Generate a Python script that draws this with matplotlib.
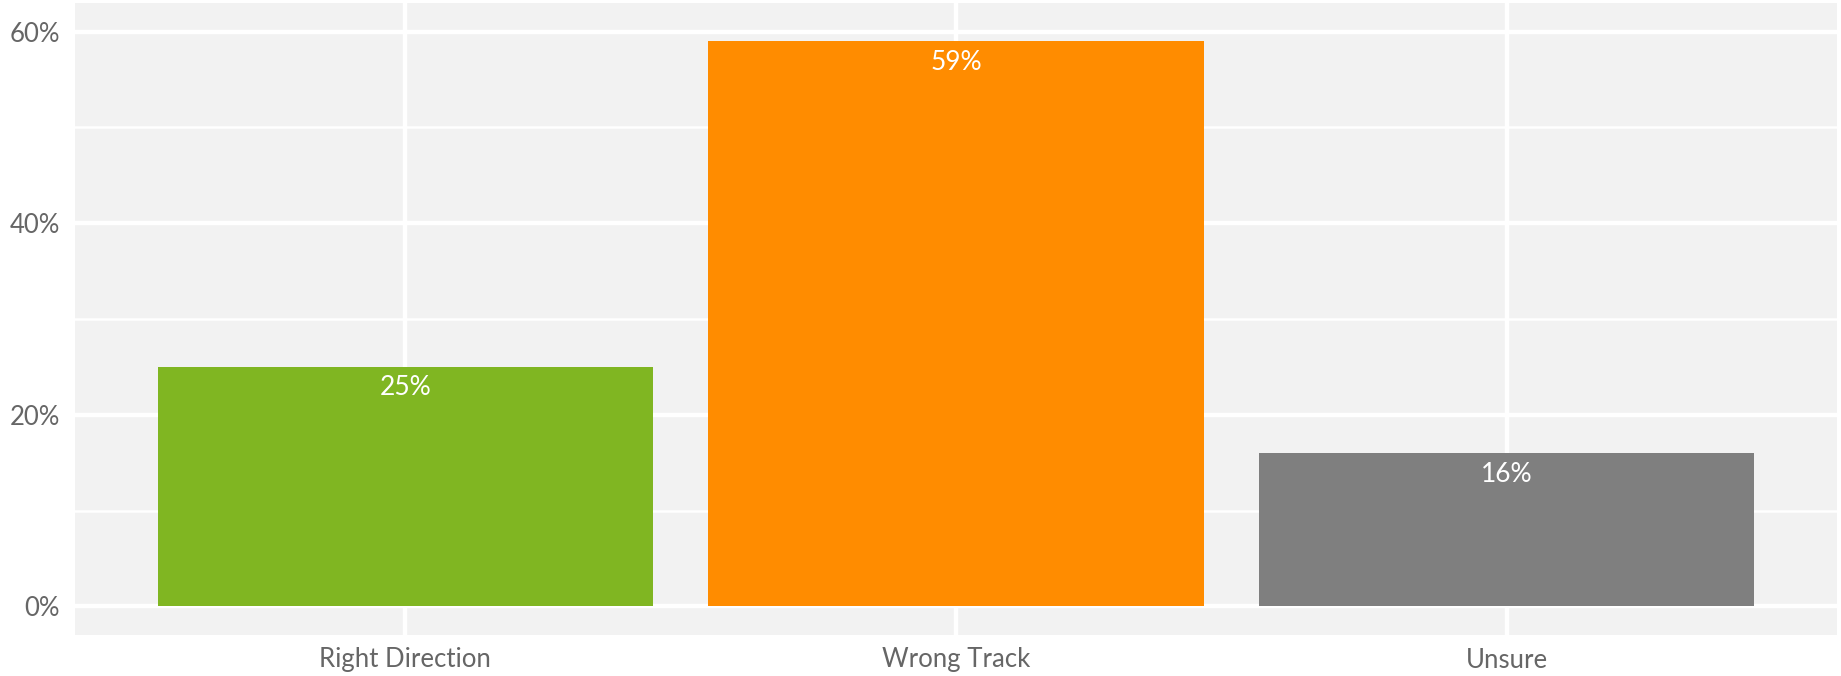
import matplotlib.pyplot as plt
from matplotlib.ticker import MultipleLocator, FuncFormatter

categories = ['Right Direction', 'Wrong Track', 'Unsure']
shares = [25, 59, 16]
bar_colors = ['#80b622', '#ff8c00', '#7f7f7f']
y_ticks = [0, 20, 40, 60]

plt.rcParams['font.family'] = ['Lato', 'DejaVu Sans']

fig = plt.figure(figsize=(18.41, 6.76), dpi=100)
ax = fig.add_axes([75 / 1841, 41 / 676, 1762 / 1841, 632 / 676])
ax.set_facecolor('#f2f2f2')

x = range(1, len(categories) + 1)
ax.bar(x, shares, width=0.9, color=bar_colors, zorder=3)

# value labels inside the top of each bar
for xi, v in zip(x, shares):
    ax.text(xi, v - 0.9, f'{v}%', ha='center', va='top', color='white',
            fontsize=19, zorder=4)

ax.set_xlim(0.4, 3.6)
ax.set_ylim(-3.0, 63.0)
ax.set_xticks(list(x))
ax.set_xticklabels(categories)
ax.set_yticks(y_ticks)
ax.yaxis.set_major_formatter(FuncFormatter(lambda v, p: f'{v:.0f}%'))
ax.yaxis.set_minor_locator(MultipleLocator(10))

ax.grid(which='major', axis='both', color='white', linewidth=3.2, zorder=1)
ax.grid(which='minor', axis='y', color='white', linewidth=1.8, zorder=1)
ax.set_axisbelow(True)

for s in ax.spines.values():
    s.set_visible(False)
ax.tick_params(which='both', length=0, labelsize=18.5, labelcolor='#666666')
ax.tick_params(axis='y', pad=11)
ax.tick_params(axis='x', pad=9)

fig.savefig('out.png', dpi=100)
